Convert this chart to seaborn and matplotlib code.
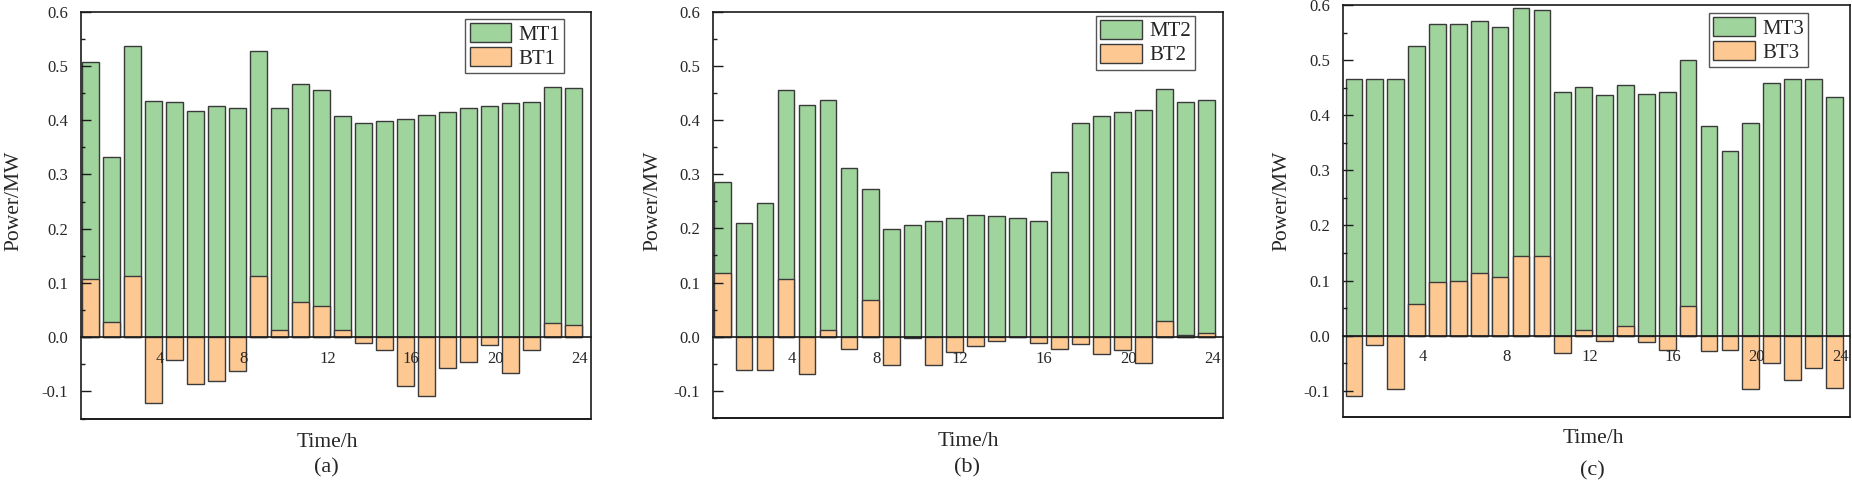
import matplotlib
matplotlib.use("Agg")
import matplotlib.pyplot as plt
import matplotlib.transforms as mtransforms
from matplotlib.ticker import MultipleLocator, FormatStrFormatter
import seaborn as sns

hours = list(range(1, 25))

mt1 = [0.507, 0.332, 0.536, 0.435, 0.433, 0.417, 0.427, 0.422, 0.528, 0.423, 0.466, 0.456,
       0.408, 0.394, 0.398, 0.403, 0.409, 0.416, 0.422, 0.427, 0.431, 0.433, 0.461, 0.459]
bt1 = [0.107, 0.028, 0.112, -0.122, -0.042, -0.086, -0.080, -0.063, 0.112, 0.013, 0.064, 0.058,
       0.013, -0.010, -0.023, -0.090, -0.108, -0.056, -0.046, -0.015, -0.066, -0.024, 0.026, 0.023]

mt2 = [0.286, 0.210, 0.247, 0.456, 0.428, 0.437, 0.312, 0.273, 0.198, 0.206, 0.214, 0.220,
       0.225, 0.222, 0.220, 0.214, 0.304, 0.395, 0.408, 0.414, 0.419, 0.458, 0.434, 0.437]
bt2 = [0.117, -0.061, -0.061, 0.107, -0.068, 0.012, -0.023, 0.067, -0.053, -0.002, -0.053, -0.029,
       -0.017, -0.007, -0.001, -0.011, -0.023, -0.013, -0.031, -0.024, -0.048, 0.029, 0.003, 0.007]

mt3 = [0.467, 0.467, 0.467, 0.526, 0.566, 0.566, 0.571, 0.561, 0.595, 0.591, 0.443, 0.452,
       0.437, 0.456, 0.439, 0.443, 0.501, 0.380, 0.336, 0.386, 0.458, 0.466, 0.467, 0.434]
bt3 = [-0.109, -0.018, -0.097, 0.058, 0.098, 0.099, 0.113, 0.106, 0.144, 0.144, -0.031, 0.011,
       -0.009, 0.017, -0.011, -0.026, 0.054, -0.028, -0.026, -0.097, -0.050, -0.080, -0.058, -0.095]

mt_labels = ["MT1", "MT2", "MT3"]
bt_labels = ["BT1", "BT2", "BT3"]
panel_tags = ["(a)", "(b)", "(c)"]
xtick_major = [4, 8, 12, 16, 20, 24]

sns.set_style("white")
plt.rcParams["font.family"] = ["Liberation Serif", "DejaVu Serif"]
plt.rcParams["axes.unicode_minus"] = True
plt.rcParams["axes.axisbelow"] = False

GREEN = "#9fd49d"
ORANGE = "#fdc892"
EDGE = "#3a3a3a"
SPINE = "#1a1a1a"

TICK_FS = 12
LAB_FS = 15.5
LEG_FS = 15
TAG_FS = 16

W, H = 1852, 483
fig = plt.figure(figsize=(W / 100, H / 100), dpi=100)

# layout in pixels: left, right, top, bottom
boxes = [(81, 591, 11.7, 418.5), (713, 1223, 11.7, 418.0), (1343, 1850, 5.3, 416.5)]
ylims = [(-0.15, 0.6), (-0.15, 0.6), (-0.147, 0.6)]
xlims = [(0.55, 24.85), (0.53, 24.78), (0.48, 24.75)]
leg_anchor = [(0.948, 0.982), (0.945, 0.990), (0.918, 0.981)]
ylab_xy = [(-0.112, 0.535), (-0.100, 0.535), (-0.101, 0.525)]
xlab_x = [0.484, 0.501, 0.493]
xlab_dy = [24, 24, 22]
tag_dy = [49, 50, 54]

series = [(mt1, bt1), (mt2, bt2), (mt3, bt3)]

for i, (mt, bt) in enumerate(series):
    l, r, t, b = boxes[i]
    ax = fig.add_axes([l / W, (H - b) / H, (r - l) / W, (b - t) / H])
    ax.set_axisbelow(False)
    sns.barplot(x=hours, y=mt, native_scale=True, orient="x", color=GREEN, saturation=1,
                edgecolor=EDGE, linewidth=1.0, width=0.8, errorbar=None,
                label=mt_labels[i], ax=ax)
    sns.barplot(x=hours, y=bt, native_scale=True, orient="x", color=ORANGE, saturation=1,
                edgecolor=EDGE, linewidth=1.0, width=0.8, errorbar=None,
                label=bt_labels[i], ax=ax)
    ax.set_xlim(*xlims[i])
    ax.set_ylim(*ylims[i])

    for s in ax.spines.values():
        s.set_color(SPINE)
        s.set_linewidth(1.2)
        s.set_visible(True)
        s.set_zorder(4)
    ax.spines["bottom"].set_position(("data", 0))
    ax.plot([0, 1], [0, 0], transform=ax.transAxes, color=SPINE, lw=1.4,
            clip_on=False, zorder=5)

    ax.xaxis.set_major_locator(MultipleLocator(4))
    ax.xaxis.set_minor_locator(MultipleLocator(2))
    ax.yaxis.set_major_locator(MultipleLocator(0.1))
    ax.yaxis.set_minor_locator(MultipleLocator(0.05))
    ax.tick_params(axis="x", which="major", direction="in", length=6.5, width=1.0,
                   color=SPINE, labelsize=TICK_FS, pad=10, top=False)
    ax.tick_params(axis="x", which="minor", direction="in", length=3.6, width=1.0,
                   color=SPINE, top=False)
    ax.tick_params(axis="y", which="major", direction="in", length=7.2, width=1.0,
                   color=SPINE, labelsize=TICK_FS, pad=9.5, right=False, left=True)
    ax.tick_params(axis="y", which="minor", direction="in", length=3.2, width=1.0,
                   color=SPINE, right=False, left=True)
    ax.set_xticks(xtick_major)
    ax.set_xticklabels([str(v) for v in xtick_major])
    off = mtransforms.ScaledTranslation(0.06, 0, fig.dpi_scale_trans)
    for lab in ax.get_xticklabels():
        lab.set_transform(lab.get_transform() + off)
    ax.yaxis.set_major_formatter(FormatStrFormatter("%.1f"))
    ax.xaxis.set_zorder(6)
    ax.yaxis.set_zorder(6)

    ax.set_ylabel("Power/MW", fontsize=LAB_FS)
    ax.yaxis.set_label_coords(*ylab_xy[i])
    ax.set_xlabel("")
    ph = b - t
    ax.text(xlab_x[i], -xlab_dy[i] / ph, "Time/h", transform=ax.transAxes,
            ha="center", va="center", fontsize=LAB_FS)
    ax.text(xlab_x[i] - 0.002, -tag_dy[i] / ph, panel_tags[i], transform=ax.transAxes,
            ha="center", va="center", fontsize=TAG_FS)

    leg = ax.legend(loc="upper right", bbox_to_anchor=leg_anchor[i], borderaxespad=0,
                    fontsize=LEG_FS, frameon=True, fancybox=False, framealpha=1,
                    edgecolor="#555555", handlelength=2.0, handleheight=1.0,
                    labelspacing=0.12, handletextpad=0.35, borderpad=0.2)
    leg.get_frame().set_linewidth(1.0)
    leg.set_zorder(7)

fig.savefig("out.png", dpi=100)
